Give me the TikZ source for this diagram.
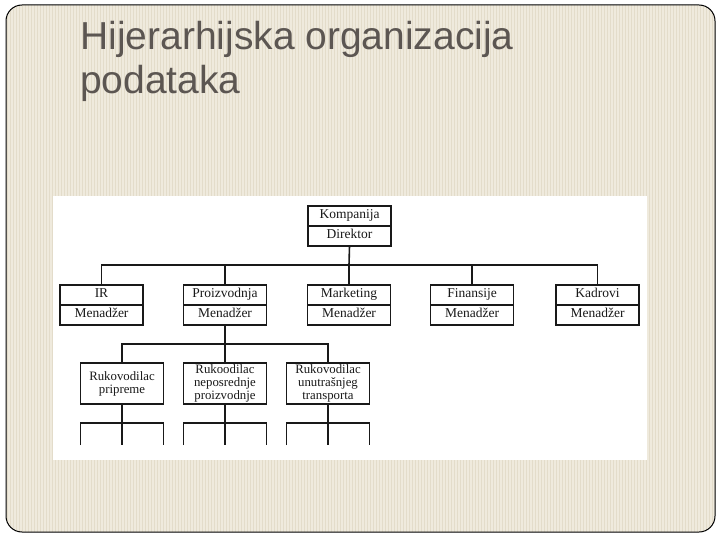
\documentclass[tikz,border=0pt]{standalone}
\usepackage{fontspec}
\setmainfont{Liberation Serif}
\newfontfamily\titlefont{Liberation Sans}
\usetikzlibrary{positioning}

\definecolor{slidebg}{RGB}{239,234,221}
\definecolor{slidestripe}{RGB}{227,220,202}
\definecolor{titlegray}{RGB}{92,86,82}
\definecolor{ink}{RGB}{25,25,25}

\tikzset{
  unitbox/.style={draw=ink, line width=1.3pt, minimum width=83pt, minimum height=20pt,
    inner sep=0pt, outer sep=0pt, text height=0.7em, text depth=0.22em, text=ink,
    font=\fontsize{13.5}{14}\selectfont},
  chiefbox/.style={draw=ink, line width=1.3pt, minimum width=83pt, minimum height=41pt,
    inner sep=0pt, outer sep=0pt, align=center, text=ink, font=\fontsize{12.8}{13}\selectfont},
  wire/.style={draw=ink, line width=1.6pt},
  titletext/.style={anchor=base west, inner sep=0pt, text=titlegray,
    font=\titlefont\fontsize{39}{44}\selectfont},
}

\begin{document}
\begin{tikzpicture}[x=1pt,y=-1pt]
    \useasboundingbox (0,0) rectangle (720,540);
    \fill[white] (0,0) rectangle (720,540);

    % slide
    \begin{scope}
        \clip[rounded corners=16pt] (6,5) rectangle (715,532);
        \fill[slidebg] (6,5) rectangle (715,532);
        \foreach \x in {7,10,...,715} \draw[slidestripe, line width=0.9pt] (\x,5) -- (\x,532);
    \end{scope}
    \draw[line width=1pt, rounded corners=16pt] (6,5) rectangle (715,532);

    % title
    \node[titletext] (titleTop) at (80,50) {Hijerarhijska organizacija};
    \node[titletext] (titleBottom) at (80,94) {podataka};

    % scan
    \fill[white] (53,196) rectangle (647,460);

    % root
    \node[unitbox] (komp) at (349.5,216) {Kompanija};
    \node[unitbox, below=0pt of komp] (dir) {Direktor};

    %level1
    \node[unitbox] (irTop) at (101.5,295) {IR};
    \node[unitbox, below=0pt of irTop] (irMgr) {Menadžer};
    \node[unitbox] (prodTop) at (225,295) {Proizvodnja};
    \node[unitbox, below=0pt of prodTop] (prodMgr) {Menadžer};
    \node[unitbox] (markTop) at (349,295) {Marketing};
    \node[unitbox, below=0pt of markTop] (markMgr) {Menadžer};
    \node[unitbox] (finTop) at (472,295) {Finansije};
    \node[unitbox, below=0pt of finTop] (finMgr) {Menadžer};
    \node[unitbox] (kadTop) at (597.5,295) {Kadrovi};
    \node[unitbox, below=0pt of kadTop] (kadMgr) {Menadžer};

    %root - level1
    \coordinate (busOne) at (349,265);
    \draw[wire] (dir.south) -- (busOne);
    \draw[wire] (irTop.north) |- (busOne) -| (kadTop.north);
    \foreach \n in {prodTop,markTop,finTop}
        \draw[wire] (\n.north) -- (\n.north |- busOne);

    % level2
    \node[chiefbox] (leadPrep) at (122,383.5) {Rukovodilac\\pripreme};
    \node[chiefbox] (leadDirect) at (225,383.5) {Rukoodilac\\neposrednje\\proizvodnje};
    \node[chiefbox] (leadTrans) at (328,383.5) {Rukovodilac\\unutrašnjeg\\transporta};

    %level1 - level2
    \coordinate (busTwo) at (225,344);
    \draw[wire] (prodMgr.south) -- (busTwo);
    \draw[wire] (leadPrep.north) |- (busTwo) -| (leadTrans.north);
    \draw[wire] (leadDirect.north) -- (busTwo);

    % level3 (cut off)
    \coordinate (cutPrep) at (122,445);
    \coordinate (cutDirect) at (225,445);
    \coordinate (cutTrans) at (328,445);
    \draw[wire] (leadPrep.south) -- (cutPrep);
    \draw[wire] (leadDirect.south) -- (cutDirect);
    \draw[wire] (leadTrans.south) -- (cutTrans);
    \foreach \c in {cutPrep,cutDirect,cutTrans}
        \draw[wire] ([xshift=-41.5pt]\c) -- ++(0,-22) -- ++(83,0) -- ++(0,22);

\end{tikzpicture}
\end{document}
